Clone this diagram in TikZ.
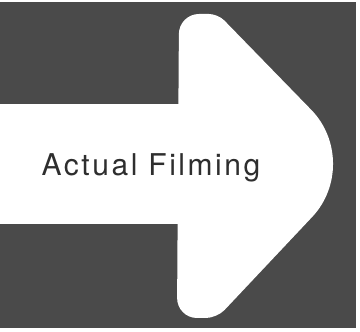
\documentclass[tikz,border=0pt]{standalone}
\usepackage{fontspec}
\setmainfont{TeX Gyre Heros}

\begin{document}
\begin{tikzpicture}[x=1pt, y=1pt,
  ground/.style={fill=black!71},
  arrowbody/.style={fill=white},
  caption/.style={inner sep=0pt, text=black!82, font=\fontsize{30}{32}\selectfont\addfontfeatures{LetterSpace=8.5}}]
\useasboundingbox (0,0) rectangle (360,332);
\fill[white] (0,0) rectangle (360,332);
\fill[ground] (0,4) rectangle (356,330);
% shaft
\fill[arrowbody] (-1,108) rectangle (180,228);
% head
\fill[arrowbody] (178,169) [rounded corners=20] -- (177,14) [rounded corners=11] -- (217,14)
  [rounded corners=74] -- (363,169) [rounded corners=9] -- (218,318)
  [rounded corners=20] -- (179,318) [sharp corners] -- (178,169) -- cycle;
\node[caption] (label) at (151,164) {Actual Filming};
\end{tikzpicture}
\end{document}
